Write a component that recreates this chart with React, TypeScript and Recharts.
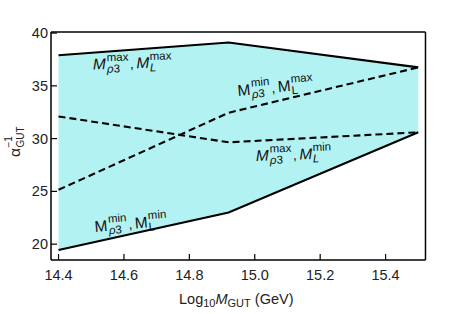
import React from 'react';
import { ComposedChart, Area, Line, XAxis, YAxis } from 'recharts';

const xValues = [14.4, 14.92, 15.5];
const upperBound = [37.9, 39.1, 36.75];
const lowerBound = [19.45, 23.0, 30.6];
const minRhoMaxL = [25.15, 32.45, 36.75];
const maxRhoMinL = [32.1, 29.65, 30.6];

const xMajorTicks = [14.4, 14.6, 14.8, 15.0, 15.2, 15.4];
const xMinorTicks = [14.45, 14.5, 14.55, 14.65, 14.7, 14.75, 14.85, 14.9, 14.95, 15.05, 15.1, 15.15, 15.25, 15.3, 15.35, 15.45, 15.5];
const yMajorTicks = [20, 25, 30, 35, 40];
const yMinorTicks = [19, 21, 22, 23, 24, 26, 27, 28, 29, 31, 32, 33, 34, 36, 37, 38, 39];

const data = xValues.map((x, i) => ({
  x,
  band: [lowerBound[i], upperBound[i]],
  upper: upperBound[i],
  lower: lowerBound[i],
  a: minRhoMaxL[i],
  b: maxRhoMinL[i],
}));

const FONT = '"Liberation Sans", Arial, Helvetica, sans-serif';
const X_DOMAIN: [number, number] = [14.377, 15.522];
const Y_DOMAIN: [number, number] = [18.5, 40.1];
const THIN = 0.01;

const BottomLabel = (props: any) => (
  <text x={Number(props.x)} y={Number(props.y) + 26} textAnchor="middle" fontSize={14.5} fontFamily={FONT} fill="#222">
    {Number(props.payload.value).toFixed(1)}
  </text>
);
const LeftLabel = (props: any) => (
  <text x={Number(props.x) - 9} y={Number(props.y) + 5} textAnchor="end" fontSize={14.5} fontFamily={FONT} fill="#222">
    {props.payload.value}
  </text>
);

type LabelProps = { x: number; y: number; rot: number; sup1: string; sup2: string; italic: boolean };
const MassLabel = ({ x, y, rot, sup1, sup2, italic }: LabelProps) => {
  const mW = 13;
  const supFs = 11.5;
  const w1 = sup1 === 'max' ? 21 : 18;
  const s1 = mW + 1;
  const comma = s1 + w1 + 2;
  const m2 = comma + 6.5;
  const s2 = m2 + mW + 0.5;
  const style = italic ? 'italic' : 'normal';
  return (
    <g transform={`translate(${x},${y}) rotate(${rot})`} fontFamily={FONT} fill="#111">
      <text x={0} y={0} fontSize={15.5} fontStyle={style}>M</text>
      <text x={s1} y={-8} fontSize={supFs}>{sup1}</text>
      <text x={s1} y={3.5} fontSize={supFs}><tspan fontStyle="italic">ρ</tspan>3</text>
      <text x={comma} y={0} fontSize={14}>,</text>
      <text x={m2} y={0} fontSize={15.5} fontStyle={style}>M</text>
      <text x={s2} y={-8} fontSize={supFs}>{sup2}</text>
      <text x={s2} y={3.5} fontSize={supFs} fontStyle={style}>L</text>
    </g>
  );
};

const axisLine = { stroke: '#000', strokeWidth: 1.5 };
const tickLine = { stroke: '#000', strokeWidth: 1.2 };

export default function App() {
  return (
    <div style={{ position: 'absolute', left: 0, top: 0, width: 457, height: 314, background: '#fff' }}>
      <ComposedChart
        width={457}
        height={314}
        data={data}
        margin={{ top: 32, right: 31.5, left: 0, bottom: 0 }}
      >
        <Area
          xAxisId="bottom"
          yAxisId="left"
          dataKey="band"
          type="linear"
          fill="#b2f2f2"
          fillOpacity={1}
          stroke="none"
          isAnimationActive={false}
        />
        <Line xAxisId="bottom" yAxisId="left" dataKey="upper" type="linear" stroke="#000" strokeWidth={2.1} dot={false} isAnimationActive={false} />
        <Line xAxisId="bottom" yAxisId="left" dataKey="lower" type="linear" stroke="#000" strokeWidth={2.1} dot={false} isAnimationActive={false} />
        <Line xAxisId="bottom" yAxisId="left" dataKey="a" type="linear" stroke="#000" strokeWidth={2.1} strokeDasharray="7 4" dot={false} isAnimationActive={false} />
        <Line xAxisId="bottom" yAxisId="left" dataKey="b" type="linear" stroke="#000" strokeWidth={2.1} strokeDasharray="7 4" dot={false} isAnimationActive={false} />

        <XAxis xAxisId="bottomMinor" dataKey="x" type="number" domain={X_DOMAIN} allowDataOverflow
          ticks={xMinorTicks} interval={0} height={THIN} tickSize={-3.5} tick={false} tickLine={tickLine} axisLine={false} />
        <XAxis xAxisId="bottom" dataKey="x" type="number" domain={X_DOMAIN} allowDataOverflow
          ticks={xMajorTicks} interval={0} height={54} tickSize={-6} tickMargin={0} tickLine={tickLine}
          axisLine={axisLine} tick={<BottomLabel />} />
        <XAxis xAxisId="topMinor" orientation="top" dataKey="x" type="number" domain={X_DOMAIN} allowDataOverflow
          ticks={xMinorTicks} interval={0} height={THIN} tickSize={-3.5} tick={false} tickLine={tickLine} axisLine={false} />
        <XAxis xAxisId="top" orientation="top" dataKey="x" type="number" domain={X_DOMAIN} allowDataOverflow
          ticks={xMajorTicks} interval={0} height={THIN} tickSize={-6} tick={false} tickLine={tickLine} axisLine={axisLine} />

        <YAxis yAxisId="leftMinor" type="number" domain={Y_DOMAIN} allowDataOverflow
          ticks={yMinorTicks} interval={0} width={THIN} tickSize={-3.5} tick={false} tickLine={tickLine} axisLine={false} />
        <YAxis yAxisId="left" type="number" domain={Y_DOMAIN} allowDataOverflow
          ticks={yMajorTicks} interval={0} width={51} tickSize={-6} tickMargin={0} tickLine={tickLine}
          axisLine={axisLine} tick={<LeftLabel />} />
        <YAxis yAxisId="rightMinor" orientation="right" type="number" domain={Y_DOMAIN} allowDataOverflow
          ticks={yMinorTicks} interval={0} width={THIN} tickSize={-3.5} tick={false} tickLine={tickLine} axisLine={false} />
        <YAxis yAxisId="right" orientation="right" type="number" domain={Y_DOMAIN} allowDataOverflow
          ticks={yMajorTicks} interval={0} width={THIN} tickSize={-6} tick={false} tickLine={tickLine} axisLine={axisLine} />
      </ComposedChart>
      <svg width={457} height={314} style={{ position: 'absolute', left: 0, top: 0, pointerEvents: 'none' }}>
        <MassLabel x={93} y={69.5} rot={-1.5} sup1="max" sup2="max" italic />
        <MassLabel x={238} y={96} rot={-5.5} sup1="min" sup2="max" italic={false} />
        <MassLabel x={256} y={161} rot={-2} sup1="max" sup2="min" italic />
        <MassLabel x={95} y={232} rot={-5} sup1="min" sup2="min" italic={false} />
        <g transform="translate(20,157) rotate(-90)" fontFamily={FONT} fill="#222">
          <text x={0} y={0} fontSize={15.5}>α</text>
          <text x={9.5} y={-8.5} fontSize={10}>−1</text>
          <text x={9.5} y={3.5} fontSize={10}>GUT</text>
        </g>
        <text x={179} y={304} fontFamily={FONT} fontSize={14.5} fill="#222">
          Log
          <tspan fontSize={11} dy={3}>10</tspan>
          <tspan fontStyle="italic" dy={-3}>M</tspan>
          <tspan fontSize={11} dy={3}>GUT</tspan>
          <tspan dy={-3}> (GeV)</tspan>
        </text>
      </svg>
    </div>
  );
}
